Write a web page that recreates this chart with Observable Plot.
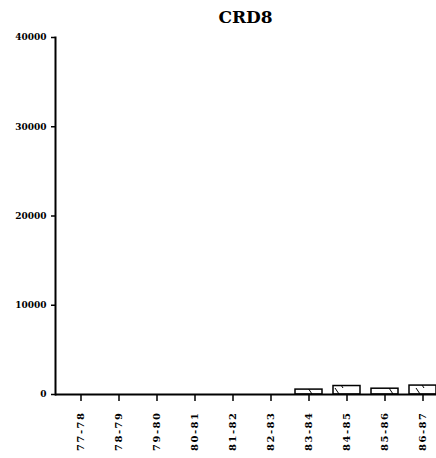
<!DOCTYPE html>
<html>
<head>
<meta charset="utf-8">
<script src="https://cdn.jsdelivr.net/npm/d3@7"></script>
<script src="https://cdn.jsdelivr.net/npm/@observablehq/plot@0.6"></script>
<style>
  html, body { margin: 0; padding: 0; background: #fff; }
  #title { width: 436px; height: 28px; box-sizing: border-box; padding-top: 9px; padding-left: 55px;
           text-align: center; font-family: "DejaVu Serif", serif; font-weight: bold; font-size: 17px; line-height: 17px; color: #000; }
  g[aria-label="x-axis tick label"] text { letter-spacing: 1.5px; }
</style>
</head>
<body>
<svg width="0" height="0" style="position:absolute">
  <defs>
    <pattern id="hatch" patternUnits="userSpaceOnUse" width="27" height="12">
      <rect width="27" height="12" fill="#fff"></rect>
      <line x1="11" y1="0" x2="19" y2="12" stroke="#000" stroke-width="1"></line>
    </pattern>
  </defs>
</svg>
<div id="title">CRD8</div>
<div id="chart"></div>
<script>
const periods = ["77-78", "78-79", "79-80", "80-81", "81-82", "82-83", "83-84", "84-85", "85-86", "86-87"];
const values = [0, 0, 0, 0, 0, 0, 550, 950, 650, 1000];
const yTicks = [0, 10000, 20000, 30000, 40000];

const data = periods.map((p, i) => ({period: p, value: values[i]}));

const chart = Plot.plot({
  width: 436,
  height: 430,
  marginTop: 9,
  marginBottom: 64,
  marginLeft: 55,
  marginRight: 0,
  style: {fontFamily: "DejaVu Serif", fontWeight: "bold", fontSize: "9px", color: "#000", background: "#fff"},
  x: {domain: periods, range: [66.5, 435.5], paddingInner: 0.29, paddingOuter: 0, label: null},
  y: {domain: [0, 40000], label: null},
  marks: [
    Plot.barY(data, {x: "period", y: "value", fill: "url(#hatch)", stroke: "#000", strokeWidth: 1.5}),
    Plot.ruleY([0], {stroke: "#000", strokeWidth: 2}),
    Plot.frame({anchor: "left", stroke: "#000", strokeWidth: 2}),
    Plot.axisY({ticks: yTicks, tickSize: 4, tickPadding: 5, tickFormat: d3.format("d"), fontSize: 9, label: null, strokeWidth: 1.5}),
    Plot.axisX({tickRotate: -90, tickSize: 7, tickPadding: 10, fontSize: 10, label: null, strokeWidth: 1.5})
  ]
});
document.getElementById("chart").appendChild(chart);
</script>
</body>
</html>
